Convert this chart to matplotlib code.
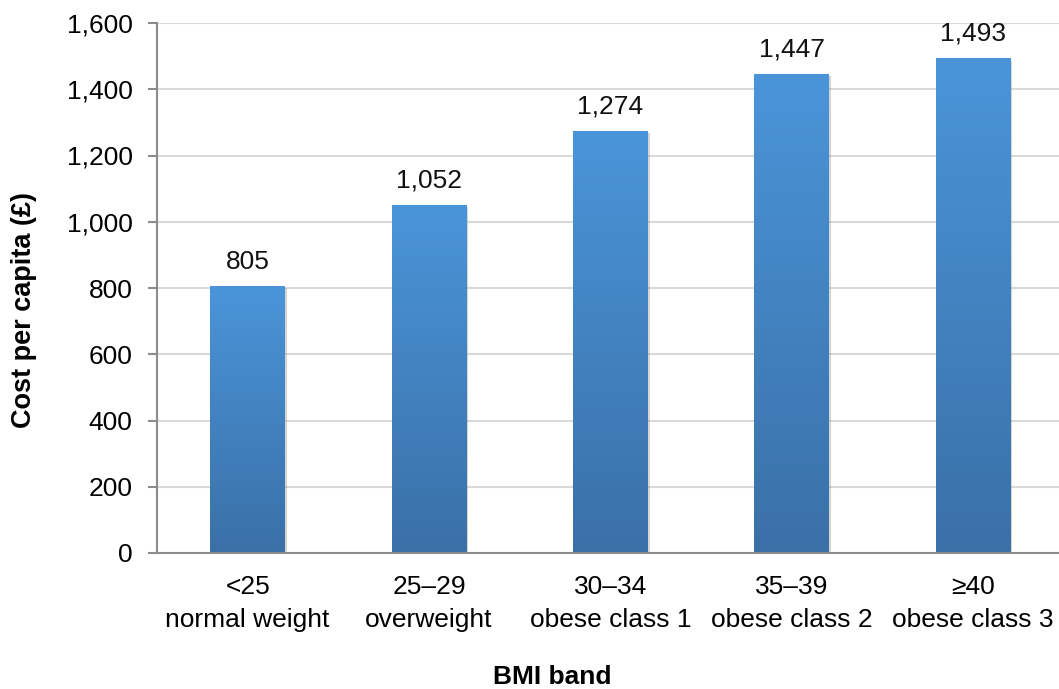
import numpy as np
import matplotlib
matplotlib.use("Agg")
import matplotlib.pyplot as plt
import matplotlib.patheffects as pe
from matplotlib.colors import LinearSegmentedColormap

plt.rcParams['font.family'] = ['Liberation Sans', 'DejaVu Sans']

# BMI bands and cost per head
bands = ["<25\nnormal weight", "25\u201329\noverweight", "30\u201334\nobese class 1",
         "35\u201339\nobese class 2", "\u226540\nobese class 3"]
cost = [805, 1052, 1274, 1447, 1493]
yticks = [0, 200, 400, 600, 800, 1000, 1200, 1400, 1600]

W, H = 1059, 689
fig = plt.figure(figsize=(W / 100, H / 100), dpi=100)
ax = fig.add_axes([157 / W, 1 - 553 / H, (W - 157) / W, (553 - 23) / H])

grad = LinearSegmentedColormap.from_list("bar", ["#3A70A7", "#4A95D9"])
x = np.arange(len(cost))
bars = ax.bar(x, cost, width=0.41, color="none", zorder=3)
for b in bars:
    b.set_path_effects([pe.SimplePatchShadow(offset=(1.5, -1.5), shadow_rgbFace="#888888", alpha=0.35)])
    x0, w, h = b.get_x(), b.get_width(), b.get_height()
    img = ax.imshow(np.linspace(0, 1, 256).reshape(-1, 1), cmap=grad, origin="lower",
                    extent=[x0, x0 + w, 0, h], aspect="auto", zorder=3.5)
    img.set_clip_path(b)
    ax.annotate(f"{h:,.0f}", (x0 + w / 2, h), xytext=(0, 9), textcoords="offset points",
                ha="center", va="bottom", fontsize=19, color="#111111")

ax.set_xlim(-0.5, 4 + (W - 973) / 181)
ax.set_ylim(0, 1600)
ax.set_yticks(yticks)
ax.set_yticklabels([f"{v:,}" for v in yticks])
ax.set_xticks(x)
ax.set_xticklabels(bands, linespacing=1.5)

ax.grid(axis="y", color="#D9D9D9", linewidth=1.5, zorder=0)
ax.set_axisbelow(True)
for s in ["top", "right"]:
    ax.spines[s].set_visible(False)
for s in ["left", "bottom"]:
    ax.spines[s].set_color("#8C8C8C")
    ax.spines[s].set_linewidth(1.5)
    ax.spines[s].set_zorder(4)

ax.tick_params(axis="y", length=6.5, width=1.5, color="#8C8C8C", pad=11, labelsize=19)
ax.tick_params(axis="x", length=0, pad=15.5, labelsize=19)

ax.set_ylabel("Cost per capita (\u00a3)", fontsize=19.5, fontweight="bold")
ax.set_xlabel("BMI band", fontsize=19, fontweight="bold")
ax.yaxis.set_label_coords((37 - 157) / 902, 1 - (310 - 23) / 530)
ax.xaxis.set_label_coords((552 - 157) / 902, -(665 - 553) / 530)

fig.savefig("out.png", dpi=100, facecolor="white")
